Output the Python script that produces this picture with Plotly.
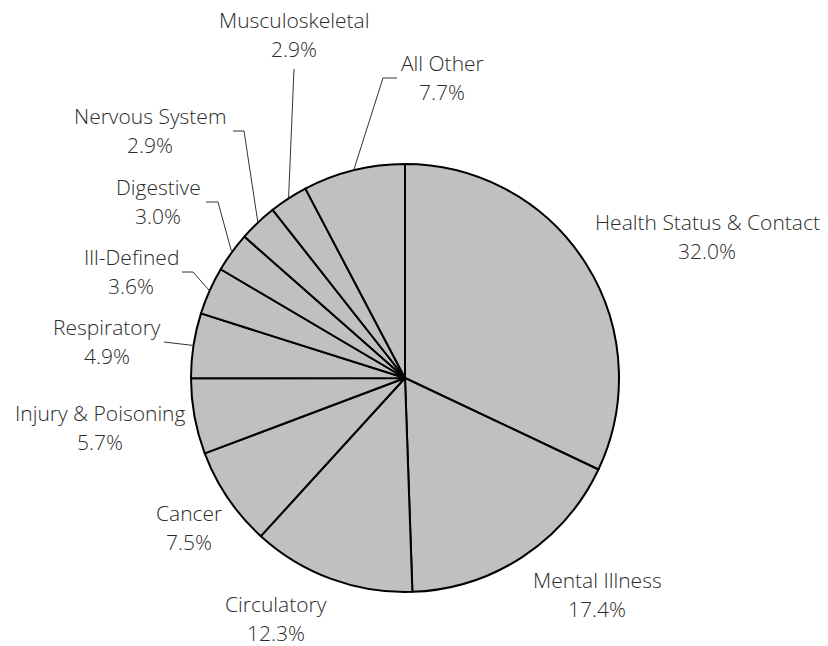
import math
import plotly.graph_objects as go

# ---- data ----
categories = ["Health Status & Contact", "Mental Illness", "Circulatory", "Cancer",
              "Injury & Poisoning", "Respiratory", "Ill-Defined", "Digestive",
              "Nervous System", "Musculoskeletal", "All Other"]
shares = [32.0, 17.4, 12.3, 7.5, 5.7, 4.9, 3.6, 3.0, 2.9, 2.9, 7.7]

# ---- layout (pixels in a 828x646 page) ----
W, H = 828, 646
CX, CY, R = 405, 378, 214
FONT = "Open Sans"
FSIZE = 21
TXT = "#2b2b2b"
LINE_GAP = 29

# label centre (x, y of the first line)
label_pos = {
    "Health Status & Contact": (707, 222),
    "Mental Illness": (597, 580),
    "Circulatory": (276, 604),
    "Cancer": (189, 513),
    "Injury & Poisoning": (100, 413),
    "Respiratory": (107, 327),
    "Ill-Defined": (131, 257),
    "Digestive": (158, 187),
    "Nervous System": (150, 116),
    "Musculoskeletal": (294, 20),
    "All Other": (442, 63),
}
# leader line waypoints after the slice edge point
leader_pts = {
    "All Other": [(383, 78), (397, 78)],
    "Musculoskeletal": [(294, 69)],
    "Nervous System": [(244, 131), (233, 131)],
    "Digestive": [(218, 202), (206, 202)],
    "Ill-Defined": [(193, 272), (182, 272)],
    "Respiratory": [(164, 342)],
}


def px(x):
    return x / W


def py(y):
    return 1 - y / H


fig = go.Figure(go.Pie(
    labels=categories,
    values=shares,
    sort=False,
    direction="clockwise",
    rotation=0,
    textinfo="none",
    hoverinfo="label+percent",
    marker=dict(colors=["#c0c0c0"] * len(shares), line=dict(color="#000000", width=2)),
    domain=dict(x=[px(CX - R), px(CX + R)], y=[py(CY + R), py(CY - R)]),
    showlegend=False,
))

annotations = []
shapes = []
total = sum(shares)
cum = 0.0
for name, v in zip(categories, shares):
    mid = (cum + v / 2) / total
    cum += v
    ang = 2 * math.pi * mid
    ex, ey = CX + R * math.sin(ang), CY - R * math.cos(ang)
    lx, ly = label_pos[name]
    annotations.append(dict(x=px(lx), y=py(ly), xref="paper", yref="paper", text=name,
                            showarrow=False, xanchor="center", yanchor="middle",
                            font=dict(family=FONT, size=FSIZE, color=TXT, weight=300)))
    annotations.append(dict(x=px(lx), y=py(ly + LINE_GAP), xref="paper", yref="paper",
                            text=f"{v:.1f}%", showarrow=False, xanchor="center",
                            yanchor="middle", font=dict(family=FONT, size=FSIZE, color=TXT, weight=300)))
    if name in leader_pts:
        pts = [(ex, ey)] + leader_pts[name]
        path = "M " + " L ".join(f"{px(a)},{py(b)}" for a, b in pts)
        shapes.append(dict(type="path", path=path, xref="paper", yref="paper",
                           line=dict(color="#333333", width=1)))

fig.update_layout(
    width=W, height=H,
    margin=dict(l=0, r=0, t=0, b=0),
    paper_bgcolor="white", plot_bgcolor="white",
    annotations=annotations,
    shapes=shapes,
)

fig.write_html("out.html", config={"displayModeBar": False},
               post_script="document.body.style.margin='0';")
